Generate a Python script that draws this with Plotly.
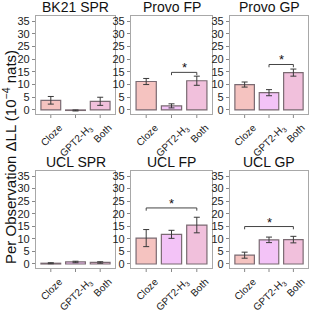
import plotly.graph_objects as go

panels = ["BK21 SPR", "Provo FP", "Provo GP", "UCL SPR", "UCL FP", "UCL GP"]
categories = ["Cloze", "GPT2-H<sub>3</sub>", "Both"]
cloze = [3.8, 11.2, 10.0, 0.3, 10.3, 3.5]
gpt2 = [-0.2, 1.6, 6.8, 0.8, 11.8, 9.6]
both = [3.4, 11.5, 14.7, 0.6, 15.5, 9.7]
cloze_err = [1.5, 1.2, 1.0, 0.2, 3.4, 1.2]
gpt2_err = [0.2, 0.8, 1.2, 0.3, 1.6, 1.1]
both_err = [1.6, 1.8, 1.4, 0.3, 3.1, 1.3]
# significance brackets: (panel index, from category, to category, height)
sig_panel = [1, 2, 4, 5]
sig_from = [1, 1, 0, 0]
sig_to = [2, 2, 2, 2]
sig_height = [14.8, 17.9, 22.3, 14.9]
yticks = [0, 5, 10, 15, 20, 25, 30, 35]

colors = ["#F5C3C0", "#F3C3F7", "#F1C0DC"]
W = H = 314
xdom_px = [(36, 115), (131, 212), (230, 308)]
ydom_px = [(16, 114), (171, 268)]
label_offset = [0.35, 0.55, 0.35]  # rotated labels sit right of their tick, as in ggplot
FONT = "Liberation Sans"

fig = go.Figure()
layout = {}
annotations = []
shapes = []
for i, name in enumerate(panels):
    r, c = divmod(i, 3)
    n = i + 1
    xa = "x" if n == 1 else f"x{n}"
    ya = "y" if n == 1 else f"y{n}"
    vals = [cloze[i], gpt2[i], both[i]]
    errs = [cloze_err[i], gpt2_err[i], both_err[i]]
    fig.add_trace(go.Bar(
        x=list(range(3)), y=vals, width=0.8,
        marker=dict(color=colors, line=dict(color="#7a6a72", width=1.2)),
        error_y=dict(type="data", array=errs, color="#3a3a3a", thickness=1, width=3),
        xaxis=xa, yaxis=ya, showlegend=False, hoverinfo="skip"))
    x0, x1 = xdom_px[c]
    y0, y1 = ydom_px[r]
    xd = [x0 / W, x1 / W]
    yd = [1 - y1 / H, 1 - y0 / H]
    layout["xaxis" if n == 1 else f"xaxis{n}"] = dict(
        domain=xd, anchor=ya, range=[-0.6, 2.6],
        tickmode="array", tickvals=[k + o for k, o in enumerate(label_offset)],
        ticktext=categories, tickangle=-45,
        ticks="outside", ticklen=3, tickcolor="rgba(0,0,0,0)",
        showline=True, mirror=True, linecolor="#a8a8a8", linewidth=1.3,
        showgrid=False, zeroline=False, automargin=False,
        tickfont=dict(family=FONT, size=10, color="#222"))
    layout["yaxis" if n == 1 else f"yaxis{n}"] = dict(
        domain=yd, anchor=xa, range=[-1.6, 37.0],
        tickmode="array", tickvals=yticks,
        ticks="outside", ticklen=3, tickcolor="#888",
        showline=True, mirror=True, linecolor="#a8a8a8", linewidth=1.3,
        showgrid=False, zeroline=False, automargin=False,
        tickfont=dict(family=FONT, size=11, color="#222"))
    # category tick marks at the bar centres
    for k in range(len(categories)):
        shapes.append(dict(type="line", xref=xa, yref="paper", x0=k, x1=k,
                           y0=yd[0] - 1 / H, y1=yd[0] - 4 / H,
                           line=dict(color="#888", width=1)))
    annotations.append(dict(
        text=name, x=(xd[0] + xd[1]) / 2, y=yd[1], xref="paper", yref="paper",
        xanchor="center", yanchor="bottom", yshift=-1, showarrow=False,
        font=dict(family=FONT, size=14, color="#111")))

for p, a, b, h in zip(sig_panel, sig_from, sig_to, sig_height):
    n = p + 1
    xr = "x" if n == 1 else f"x{n}"
    yr = "y" if n == 1 else f"y{n}"
    pts = f"M {a},{h - 1.1} L {a},{h} L {b},{h} L {b},{h - 1.1}"
    shapes.append(dict(type="path", path=pts, xref=xr, yref=yr,
                       line=dict(color="#444", width=1)))
    annotations.append(dict(text="*", x=(a + b) / 2, y=h, xref=xr, yref=yr,
                            xanchor="center", yanchor="bottom", yshift=-5,
                            showarrow=False,
                            font=dict(family=FONT, size=13, color="#111")))

annotations.append(dict(
    text="Per Observation ΔLL (10<sup>−4</sup> nats)", x=9 / W, y=0.5,
    xref="paper", yref="paper", textangle=-90, showarrow=False,
    xanchor="center", yanchor="middle",
    font=dict(family=FONT, size=15, color="#111")))

fig.update_layout(
    width=W, height=H, margin=dict(l=0, r=0, t=0, b=0),
    paper_bgcolor="white", plot_bgcolor="white",
    annotations=annotations, shapes=shapes, **layout)

fig.write_html("out.html", config={"displayModeBar": False},
               post_script="document.body.style.margin='0';document.body.style.overflow='hidden';")
